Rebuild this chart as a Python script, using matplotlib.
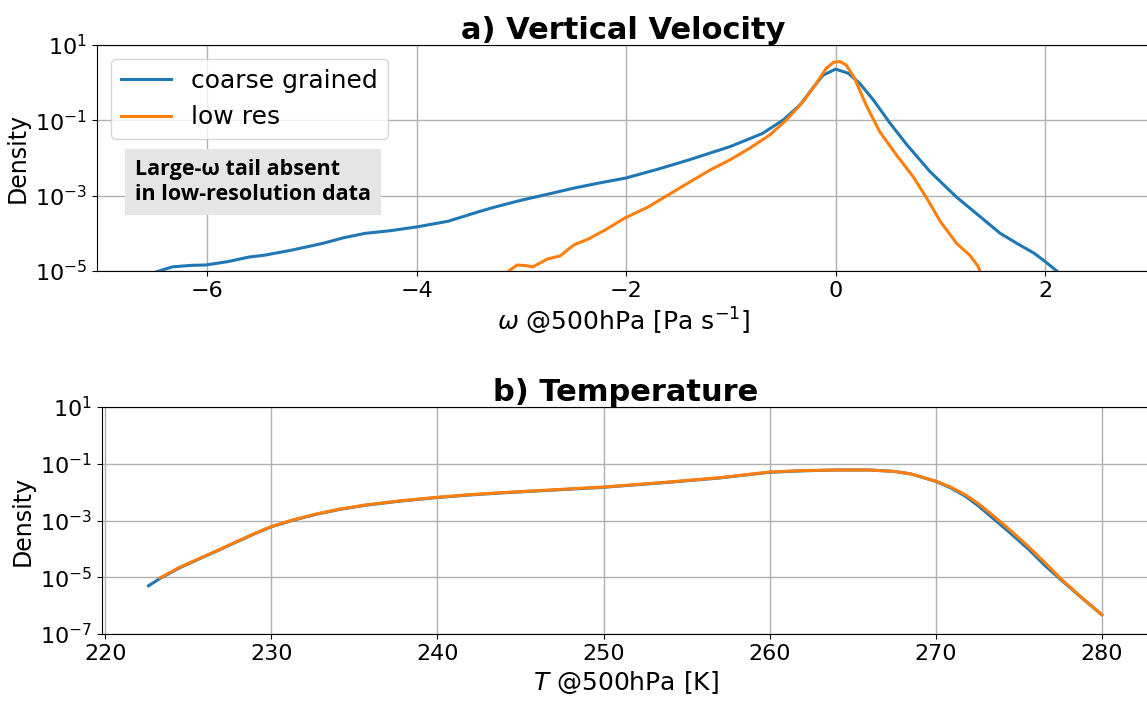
import numpy as np
import matplotlib
matplotlib.use("Agg")
import matplotlib.pyplot as plt
from matplotlib.ticker import LogLocator, NullLocator

plt.rcParams["font.family"] = ["DejaVu Sans"]

# vertical velocity PDFs (omega in Pa/s, log10 density)
omega_cg = [-6.75, -6.46, -6.33, -6.15, -6.01, -5.80, -5.60, -5.45, -5.20, -4.90, -4.70,
            -4.49, -4.25, -4.00, -3.70, -3.40, -3.25, -3.00, -2.70, -2.50, -2.25, -2.00,
            -1.70, -1.40, -1.20, -1.01, -0.85, -0.70, -0.50, -0.34, -0.22, -0.12, 0.00,
            0.12, 0.23, 0.36, 0.52, 0.68, 0.90, 1.15, 1.38, 1.57, 1.75, 1.89, 2.00, 2.11, 2.30]
logp_cg = [-5.30, -5.00, -4.89, -4.85, -4.84, -4.75, -4.63, -4.58, -4.45, -4.27, -4.12,
           -4.00, -3.93, -3.83, -3.68, -3.42, -3.30, -3.12, -2.93, -2.80, -2.66, -2.53,
           -2.30, -2.05, -1.87, -1.70, -1.52, -1.35, -0.99, -0.59, -0.15, 0.20, 0.36,
           0.25, -0.02, -0.46, -1.08, -1.65, -2.36, -3.03, -3.56, -4.00, -4.30, -4.52,
           -4.75, -5.00, -5.40]

omega_lr = [-3.20, -3.12, -3.04, -2.95, -2.89, -2.75, -2.63, -2.50, -2.36, -2.20, -2.01,
            -1.79, -1.52, -1.20, -1.01, -0.82, -0.63, -0.47, -0.31, -0.185, -0.09, -0.02,
            0.04, 0.10, 0.18, 0.29, 0.42, 0.58, 0.74, 0.87, 1.00, 1.155, 1.28, 1.36, 1.39, 1.45]
logp_lr = [-5.30, -5.00, -4.84, -4.86, -4.89, -4.68, -4.60, -4.31, -4.15, -3.91, -3.59,
           -3.30, -2.85, -2.32, -2.05, -1.74, -1.39, -0.99, -0.50, -0.02, 0.38, 0.54,
           0.56, 0.47, 0.12, -0.59, -1.30, -1.92, -2.50, -3.07, -3.69, -4.27, -4.58,
           -4.88, -5.10, -5.40]

# temperature PDFs (K, log10 density)
temp_cg = [222.6, 223.3, 224.5, 225.7, 226.7, 227.7, 228.9, 230.0, 231.3, 232.7, 234.1,
           235.7, 237.7, 240.0, 241.7, 243.8, 250.0, 254.0, 257.0, 260.0, 262.0, 264.0,
           266.0, 267.5, 268.5, 270.0, 270.9, 271.8, 272.6, 273.4, 274.5, 275.6, 276.6,
           277.6, 278.8, 280.0]
logp_tcg = [-5.30, -5.04, -4.66, -4.34, -4.08, -3.81, -3.49, -3.22, -2.99, -2.78, -2.61,
            -2.46, -2.32, -2.19, -2.11, -2.03, -1.83, -1.65, -1.50, -1.30, -1.25, -1.22,
            -1.22, -1.27, -1.36, -1.62, -1.85, -2.15, -2.50, -2.90, -3.45, -4.02, -4.60,
            -5.12, -5.73, -6.32]

temp_lr = [223.3, 224.5, 225.7, 226.7, 227.7, 228.9, 230.0, 231.3, 232.7, 234.1, 235.7,
           237.7, 240.0, 241.7, 243.8, 250.0, 254.0, 257.0, 260.0, 262.0, 264.0, 266.0,
           267.5, 268.5, 270.0, 270.9, 271.8, 272.6, 273.4, 274.5, 275.6, 276.6, 277.6,
           278.8, 280.0]
logp_tlr = [-5.02, -4.64, -4.33, -4.07, -3.80, -3.48, -3.21, -2.98, -2.77, -2.60, -2.45,
            -2.31, -2.18, -2.10, -2.02, -1.82, -1.64, -1.49, -1.29, -1.24, -1.22, -1.22,
            -1.27, -1.36, -1.61, -1.82, -2.10, -2.42, -2.80, -3.35, -3.93, -4.50, -5.09,
            -5.72, -6.32]

fig = plt.figure(figsize=(11.47, 7.02), dpi=100)
ax1 = fig.add_axes([97 / 1147, 1 - 271 / 702, (1150 - 97) / 1147, 226 / 702])
ax2 = fig.add_axes([102 / 1147, 1 - 634 / 702, (1150 - 102) / 1147, 227 / 702])

ax1.plot(omega_cg, 10 ** np.array(logp_cg), color="#1f77b4", lw=2.2, label="coarse grained")
ax1.plot(omega_lr, 10 ** np.array(logp_lr), color="#ff7f0e", lw=2.2, label="low res")
ax1.set_yscale("log")
ax1.set_ylim(1e-5, 10)
ax1.set_xlim(-7.05, 3.0)
ax1.set_xticks([-6, -4, -2, 0, 2])
ax1.yaxis.set_major_locator(LogLocator(base=100, subs=[0.1]))
ax1.yaxis.set_minor_locator(NullLocator())
ax1.set_title("a) Vertical Velocity", fontsize=22, fontweight="bold", pad=4)
ax1.set_xlabel(r"$\omega$ @500hPa [Pa s$^{-1}$]", fontsize=18)
ax1.set_ylabel("Density", fontsize=17)
ax1.legend(loc="upper left", fontsize=18, borderaxespad=0.55, handlelength=2.0)
ax1.text(0.036, 0.495, "Large-\u03c9 tail absent\nin low-resolution data",
         transform=ax1.transAxes, fontsize=15.5, fontweight="bold", family="Open Sans",
         va="top", ha="left", linespacing=1.22,
         bbox=dict(facecolor="#e5e5e5", edgecolor="none", pad=7.5))

ax2.plot(temp_cg, 10 ** np.array(logp_tcg), color="#1f77b4", lw=2.2)
ax2.plot(temp_lr, 10 ** np.array(logp_tlr), color="#ff7f0e", lw=2.2)
ax2.set_yscale("log")
ax2.set_ylim(1e-7, 10)
ax2.set_xlim(219.8, 282.9)
ax2.set_yticks([1e1, 1e-1, 1e-3, 1e-5, 1e-7])
ax2.yaxis.set_minor_locator(NullLocator())
ax2.set_title("b) Temperature", fontsize=22, fontweight="bold", pad=4)
ax2.set_xlabel("$T$ @500hPa [K]", fontsize=18)
ax2.set_ylabel("Density", fontsize=17)

for ax in (ax1, ax2):
    ax.grid(True, color="#b0b0b0", lw=1)
    ax.tick_params(labelsize=16)

fig.savefig("out.png", dpi=100)
